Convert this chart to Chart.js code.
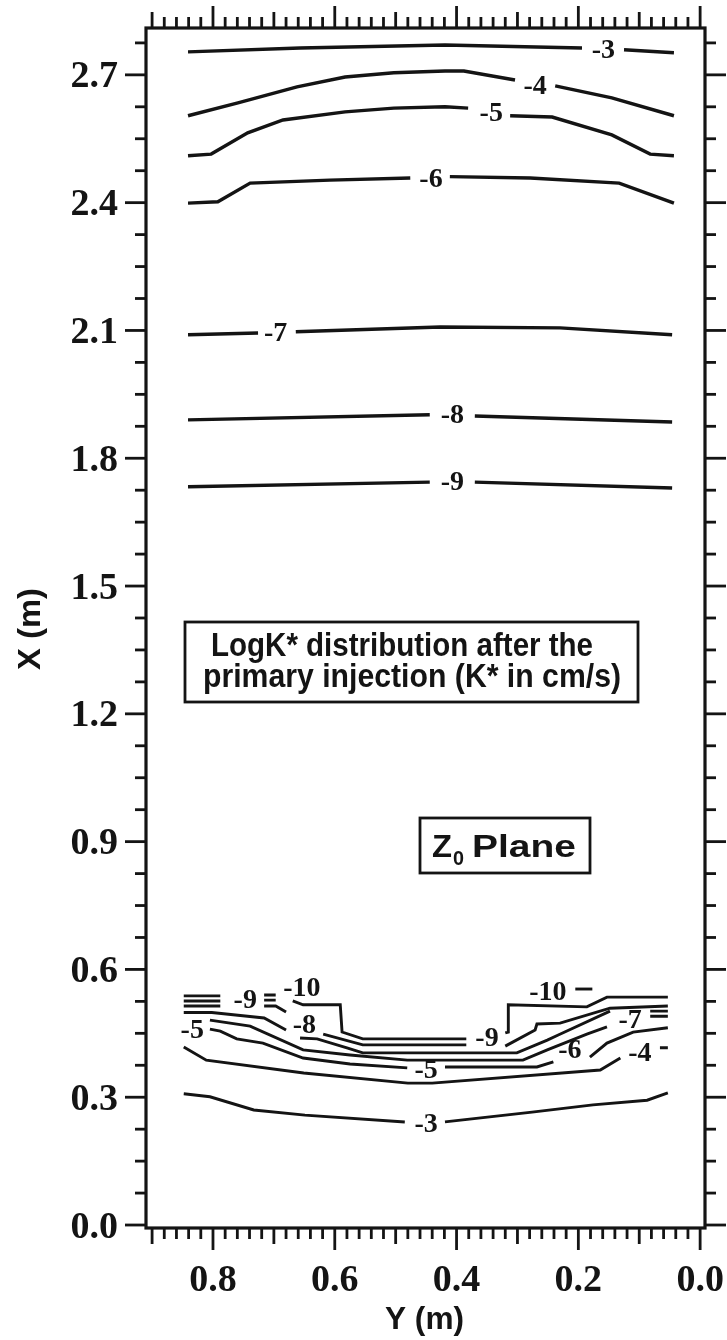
<!DOCTYPE html>
<html>
<head>
<meta charset="utf-8">
<script src="https://cdn.jsdelivr.net/npm/chart.js@4.4.0/dist/chart.umd.min.js"></script>
<style>
  html, body { margin: 0; background: #fff; }
</style>
</head>
<body>
<canvas id="logk" width="727" height="1340"></canvas>
<script>
// axis ticks
const xTickValues = [0.8, 0.6, 0.4, 0.2, 0.0];
const xTickLabels = ['0.8', '0.6', '0.4', '0.2', '0.0'];
const yTickValues = [0.0, 0.3, 0.6, 0.9, 1.2, 1.5, 1.8, 2.1, 2.4, 2.7];
const yTickLabels = ['0.0', '0.3', '0.6', '0.9', '1.2', '1.5', '1.8', '2.1', '2.4', '2.7'];

// contour lines as [Y, X] pairs, null = break for a label
const top3 = [[0.841, 2.754], [0.657, 2.763], [0.419, 2.770], [0.194, 2.763], null, [0.125, 2.759], [0.043, 2.752]];
const top4 = [[0.841, 2.604], [0.759, 2.634], [0.662, 2.672], [0.583, 2.695], [0.503, 2.705], [0.419, 2.709], [0.388, 2.709], [0.304, 2.688], null, [0.238, 2.674], [0.145, 2.646], [0.043, 2.604]];
const top5 = [[0.841, 2.510], [0.803, 2.514], [0.743, 2.564], [0.685, 2.594], [0.583, 2.613], [0.503, 2.622], [0.419, 2.625], [0.381, 2.622], null, [0.312, 2.604], [0.243, 2.601], [0.145, 2.559], [0.082, 2.514], [0.043, 2.510]];
const top6 = [[0.841, 2.399], [0.792, 2.402], [0.739, 2.446], [0.608, 2.453], [0.476, 2.458], null, [0.411, 2.461], [0.279, 2.458], [0.133, 2.446], [0.043, 2.399]];
const mid7 = [[0.841, 2.090], [0.726, 2.094], null, [0.664, 2.097], [0.427, 2.108], [0.230, 2.106], [0.046, 2.090]];
const mid8 = [[0.841, 1.890], [0.444, 1.902], null, [0.370, 1.899], [0.046, 1.885]];
const mid9 = [[0.841, 1.733], [0.444, 1.744], null, [0.370, 1.744], [0.046, 1.730]];

// steep zone near the injection front
const low10a = [[0.848, 0.538], [0.788, 0.538], null, [0.716, 0.540], [0.697, 0.540]];
const low10b = [[0.848, 0.526], [0.788, 0.526], null, [0.716, 0.528], [0.697, 0.528]];
const low9a = [[0.848, 0.514], [0.788, 0.514], null, [0.716, 0.514], [0.697, 0.514], [0.680, 0.500]];
const low9b = [[0.848, 0.499], [0.802, 0.499], [0.716, 0.486], [0.680, 0.458]];
const lowStep = [[0.669, 0.526], [0.652, 0.517], [0.591, 0.517], [0.588, 0.453], [0.554, 0.437], [0.384, 0.437], null, [0.320, 0.451], [0.315, 0.453], [0.315, 0.517], [0.186, 0.512], [0.153, 0.535], [0.053, 0.535]];
const low8 = [[0.619, 0.448], [0.554, 0.423], [0.384, 0.423], null, [0.320, 0.420], [0.271, 0.458], [0.268, 0.472], [0.230, 0.474], [0.148, 0.509], [0.053, 0.514]];
const low7 = [[0.657, 0.439], [0.629, 0.437], [0.580, 0.416], [0.554, 0.404], [0.460, 0.404], [0.301, 0.404], [0.251, 0.434], [0.233, 0.446], [0.148, 0.502], null, [0.082, 0.502], [0.053, 0.502]];
const low6 = [[0.805, 0.481], [0.739, 0.467], [0.652, 0.411], [0.575, 0.399], [0.481, 0.387], [0.419, 0.387], [0.291, 0.387], [0.251, 0.411], [0.186, 0.448], [0.153, 0.465], null, [0.082, 0.490], [0.053, 0.490]];
const low5 = [[0.805, 0.460], [0.788, 0.455], [0.761, 0.437], [0.718, 0.427], [0.652, 0.392], [0.575, 0.378], [0.481, 0.369], null, [0.419, 0.371], [0.268, 0.371], [0.241, 0.383], null, [0.181, 0.394], [0.153, 0.427], [0.110, 0.453], [0.053, 0.463]];
const low4 = [[0.848, 0.418], [0.811, 0.387], [0.651, 0.357], [0.480, 0.333], [0.440, 0.333], [0.164, 0.364], [0.131, 0.392], null, [0.066, 0.416], [0.053, 0.416]];
const low3 = [[0.848, 0.308], [0.805, 0.301], [0.733, 0.270], [0.649, 0.258], [0.485, 0.242], null, [0.419, 0.242], [0.276, 0.265], [0.176, 0.282], [0.087, 0.293], [0.053, 0.310]];
const lowDash = [[0.205, 0.554], [0.177, 0.554]];

const upperContours = [top3, top4, top5, top6, mid7, mid8, mid9];
const lowerContours = [low10a, low10b, low9a, low9b, lowStep, low8, low7, low6, low5, low4, low3, lowDash];

// level labels: text, Y, X
const levelLabels = [
  ['-3', 0.159, 2.760], ['-4', 0.271, 2.674], ['-5', 0.343, 2.611], ['-6', 0.442, 2.456],
  ['-7', 0.697, 2.094], ['-8', 0.407, 1.902], ['-9', 0.407, 1.744],
  ['-9', 0.747, 0.528], ['-10', 0.654, 0.556], ['-8', 0.650, 0.470], ['-5', 0.834, 0.458],
  ['-10', 0.250, 0.547], ['-9', 0.350, 0.439], ['-7', 0.115, 0.481], ['-6', 0.214, 0.411],
  ['-4', 0.099, 0.404], ['-5', 0.450, 0.364], ['-3', 0.450, 0.237]
];

const noteLines = ['LogK* distribution after the', 'primary injection (K* in cm/s)'];
const xTitle = 'Y (m)';
const yTitle = 'X (m)';

const INK = '#141414';

function toPoints(arr) {
  let lastX = 0;
  return arr.map(p => {
    if (!p) return { x: lastX, y: null };
    lastX = p[0];
    return { x: p[0], y: p[1] };
  });
}

// draw text squeezed to a given width
function fitText(ctx, text, x, y, w) {
  const m = ctx.measureText(text).width;
  ctx.save();
  ctx.translate(x, y);
  ctx.scale(w / m, 1);
  ctx.fillText(text, 0, 0);
  ctx.restore();
}

const framePlugin = {
  id: 'frame',
  afterDraw(chart) {
    const { ctx, chartArea: a, scales: { x, y } } = chart;
    ctx.save();
    ctx.strokeStyle = INK;
    ctx.fillStyle = INK;
    ctx.lineCap = 'butt';

    const seg = (x1, y1, x2, y2) => {
      ctx.beginPath(); ctx.moveTo(x1, y1); ctx.lineTo(x2, y2); ctx.stroke();
    };

    // tick marks top and bottom, every 0.02
    ctx.lineWidth = 2.8;
    for (let i = 0; i <= 45; i++) {
      const px = x.getPixelForValue(i * 0.02);
      const len = i % 10 === 0 ? 22 : (i % 5 === 0 ? 16 : 11);
      seg(px, a.bottom, px, a.bottom + len);
      seg(px, a.top, px, a.top - len);
    }
    // tick marks left and right, every 0.075
    for (let i = 0; i <= 37; i++) {
      const py = y.getPixelForValue(i * 0.075);
      const len = i % 4 === 0 ? 21 : 11;
      seg(a.left - len, py, a.left, py);
      seg(a.right, py, a.right + len, py);
    }

    ctx.lineWidth = 3.2;
    ctx.strokeRect(a.left, a.top, a.right - a.left, a.bottom - a.top);

    // tick labels
    ctx.font = 'bold 38px "Liberation Serif", "Times New Roman", serif';
    ctx.textBaseline = 'alphabetic';
    ctx.textAlign = 'right';
    yTickValues.forEach((v, i) => {
      ctx.fillText(yTickLabels[i], a.left - 28, y.getPixelForValue(v) + 12.5);
    });
    ctx.textAlign = 'center';
    xTickValues.forEach((v, i) => {
      ctx.fillText(xTickLabels[i], x.getPixelForValue(v), 1291);
    });

    // axis titles
    ctx.font = 'bold 31px "Liberation Sans", Arial, sans-serif';
    ctx.textAlign = 'left';
    fitText(ctx, xTitle, 385, 1329, 79);
    ctx.save();
    ctx.translate(40, 670);
    ctx.rotate(-Math.PI / 2);
    fitText(ctx, yTitle, 0, 0, 82);
    ctx.restore();

    // contour level labels
    ctx.font = 'bold 28px "Liberation Serif", "Times New Roman", serif';
    ctx.textAlign = 'center';
    ctx.textBaseline = 'middle';
    levelLabels.forEach(([t, vx, vy]) => {
      ctx.fillText(t, x.getPixelForValue(vx), y.getPixelForValue(vy) + 1);
    });

    // note box
    ctx.lineWidth = 2.8;
    ctx.strokeRect(185, 622, 453, 80);
    ctx.font = 'bold 33px "Liberation Sans", Arial, sans-serif';
    ctx.textAlign = 'left';
    ctx.textBaseline = 'alphabetic';
    fitText(ctx, noteLines[0], 211, 656, 382);
    fitText(ctx, noteLines[1], 203, 687, 418);

    // plane box
    ctx.strokeRect(420, 818, 170, 55);
    ctx.font = 'bold 32px "Liberation Sans", Arial, sans-serif';
    fitText(ctx, 'Z', 432, 857, 20);
    ctx.font = 'bold 20px "Liberation Sans", Arial, sans-serif';
    fitText(ctx, '0', 453, 865, 11);
    ctx.font = 'bold 32px "Liberation Sans", Arial, sans-serif';
    fitText(ctx, 'Plane', 472, 857, 104);

    ctx.restore();
  }
};

const lineStyle = width => c => ({
  data: toPoints(c),
  borderColor: INK,
  borderWidth: width,
  pointRadius: 0,
  tension: 0,
  spanGaps: false,
  fill: false
});

const datasets = [
  ...upperContours.map(lineStyle(3.4)),
  ...lowerContours.map(lineStyle(2.9))
];

new Chart(document.getElementById('logk').getContext('2d'), {
  type: 'line',
  data: { datasets },
  options: {
    responsive: false,
    animation: false,
    layout: { padding: { left: 146, right: 22, top: 28, bottom: 112 } },
    scales: {
      x: { type: 'linear', reverse: true, min: -0.008, max: 0.910, display: false },
      y: { type: 'linear', min: -0.007, max: 2.810, display: false }
    },
    plugins: { legend: { display: false }, tooltip: { enabled: false } }
  },
  plugins: [framePlugin]
});
</script>
</body>
</html>
